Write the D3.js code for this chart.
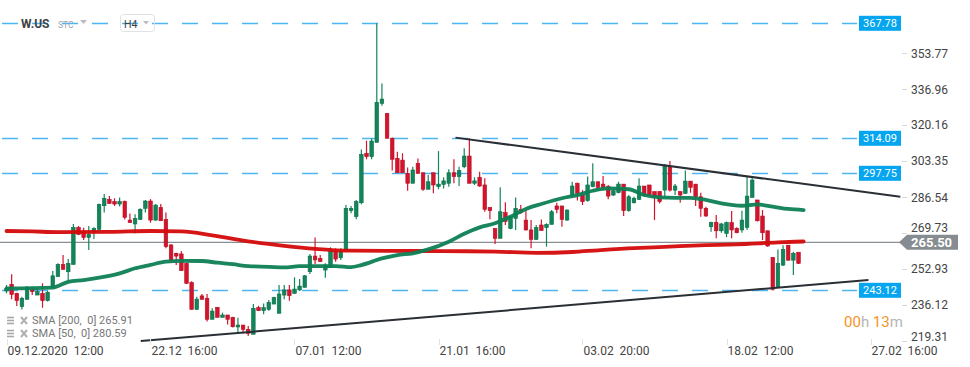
<!DOCTYPE html>
<html>
<head>
<meta charset="utf-8">
<script src="https://cdn.jsdelivr.net/npm/d3@7"></script>
<style>
  html, body { margin: 0; padding: 0; background: #fff; }
  svg { display: block; font-family: Roboto, 'Noto Sans', sans-serif; }
  text { white-space: pre; }
</style>
</head>
<body>
<div id="chart"></div>
<script>
// candles, H4, one entry per bar
const opens = [242.8,245.9,241.7,235.5,238.9,243.6,240.9,241.7,238.3,244.5,249.5,255.2,251.8,255.2,272.5,270.5,267.8,270.5,271.6,282.6,
  285.6,284.6,283.4,284.6,275.9,274.1,276.2,281.4,284.8,275.9,281.8,276.2,264.3,260.4,260.1,255.7,246.8,234.2,240.5,239.4,
  229.6,235.2,230.5,231.6,230.5,226.0,226.9,224.9,222.6,235.0,233.6,234.2,236.7,232.4,240.9,243.3,241.7,243.3,244.5,251.8,
  259.1,258.0,252.6,253.8,261.6,258.3,261.9,280.3,277.5,284.0,307.1,305.5,312.2,330.4,325.7,314.1,304.7,303.9,297.7,293.1,
  302.4,298.0,290.3,298.0,291.5,292.6,293.1,298.0,296.2,300.8,305.8,293.1,295.9,292.3,281.8,272.0,267.4,279.4,272.0,276.7,
  280.9,275.9,271.3,266.9,273.6,272.4,273.9,282.5,282.5,275.9,287.6,293.1,287.6,285.0,291.5,293.8,292.7,291.5,287.6,288.7,
  292.7,280.3,284.0,285.6,291.8,292.3,289.2,289.2,289.9,300.8,289.9,289.2,288.4,294.1,292.7,286.8,281.4,272.8,274.8,270.9,
  269.7,274.7,272.0,271.3,272.5,286.5,285.3,277.8,270.9,258.5,244.5,254.9,264.2,257.2,260.9];
const highs = [245.6,250.6,242.0,240.1,245.1,244.8,244.0,246.4,242.9,252.1,255.7,259.6,257.7,274.1,273.1,272.3,273.1,272.5,283.7,288.1,
  287.1,286.1,286.5,285.0,279.0,278.6,281.4,285.3,285.7,283.4,283.4,279.4,264.6,260.7,261.5,256.0,247.4,240.1,241.4,241.4,
  234.7,235.2,232.7,231.6,230.8,230.3,226.9,226.5,236.7,235.9,237.0,238.6,240.1,245.6,245.6,245.6,249.2,248.4,250.3,260.1,
  267.8,259.6,255.7,263.2,262.7,262.7,282.9,282.5,285.3,308.9,313.0,314.1,367.78,339.7,325.7,314.5,307.8,307.1,300.5,300.8,
  304.7,298.0,296.9,298.0,308.1,295.9,299.6,304.3,300.8,309.4,314.1,295.9,298.5,295.4,281.8,272.0,291.2,284.2,277.8,286.5,
  282.9,280.6,275.9,273.6,276.2,274.4,280.6,284.0,282.5,280.9,293.8,293.4,289.9,296.2,302.4,293.8,296.5,292.3,290.3,293.8,
  292.7,287.6,286.8,295.4,291.8,292.3,289.2,289.5,302.1,303.5,292.7,289.2,299.0,294.1,292.7,288.7,282.1,275.1,278.3,274.7,
  275.2,280.1,272.5,280.3,296.5,295.4,285.3,280.6,270.9,258.5,262.2,264.2,264.2,261.1,260.9];
const lows = [241.7,238.9,235.8,234.2,238.9,240.9,240.9,235.0,237.9,244.5,249.5,252.9,246.7,255.2,268.9,266.6,261.9,267.1,271.0,279.4,
  283.4,282.5,282.2,276.2,274.7,269.7,275.9,279.4,274.7,275.6,275.5,262.7,256.9,254.9,252.3,246.0,234.2,234.2,238.9,228.5,
  229.6,230.5,230.5,227.2,225.7,223.0,223.0,221.8,222.6,233.6,231.9,233.6,236.7,232.4,239.0,238.3,241.4,242.8,244.5,250.7,
  255.4,256.5,249.0,253.8,256.5,257.3,261.9,279.1,276.3,283.3,304.3,304.3,312.2,329.3,314.1,299.0,298.0,298.0,289.6,293.1,
  297.7,289.6,290.3,288.4,290.3,290.7,291.5,293.1,291.8,300.1,293.1,292.3,291.5,279.8,276.3,264.7,267.4,273.6,271.6,271.3,
  278.7,271.0,262.7,266.6,271.0,263.5,273.9,279.1,272.8,275.6,287.1,285.0,282.9,284.5,291.2,289.6,289.9,285.6,287.1,288.4,
  277.8,279.8,283.7,285.3,286.8,287.1,275.9,283.7,287.1,289.2,287.6,284.0,288.1,288.7,282.5,277.5,277.5,270.5,267.4,270.0,
  267.9,267.4,269.7,270.0,271.3,286.5,275.2,266.6,263.5,243.0,244.5,254.5,256.9,250.3,255.4];
const closes = [244.0,241.2,238.3,239.4,244.5,242.5,242.5,238.3,242.2,249.9,255.2,252.9,255.7,272.5,269.2,267.8,269.2,272.0,283.2,286.1,
  283.7,283.4,284.6,277.2,274.7,276.7,280.9,284.8,275.9,282.9,275.6,263.5,256.9,259.1,252.3,246.4,234.2,239.0,238.9,229.6,
  233.4,230.5,231.6,229.6,226.1,226.9,224.9,223.0,234.7,233.6,235.0,237.5,239.7,241.4,243.3,240.6,243.7,245.1,249.9,259.1,
  257.3,256.5,254.9,261.6,257.7,261.1,281.4,281.4,284.5,306.6,305.5,312.8,330.9,332.4,314.1,304.3,298.0,298.0,293.1,299.3,
  297.7,290.3,293.8,292.3,292.7,294.2,298.0,296.2,299.0,305.8,293.1,294.2,291.8,280.9,280.3,267.4,279.8,275.2,277.5,281.4,
  279.4,271.3,266.9,272.4,271.0,273.9,279.8,280.9,276.2,280.6,291.8,288.4,284.5,292.3,293.8,291.2,291.2,287.1,289.6,292.7,
  280.3,286.8,286.1,291.8,287.6,287.6,286.8,284.5,301.1,289.9,291.8,287.6,294.1,291.2,286.8,281.4,277.8,274.8,270.9,274.1,
  274.7,271.3,270.0,275.9,287.1,294.6,275.6,270.0,263.8,243.6,255.7,262.2,257.2,260.4,255.7];

// moving averages (bar index, value)
const sma200Idx = [0, 5, 10, 20, 28, 34, 40, 47, 54, 60, 67, 75, 85, 95, 103, 110, 115, 122, 128, 136, 142, 150, 155];
const sma200Val = [270.8, 270.6, 270.3, 270.4, 270.8, 270.6, 268.8, 266.0, 263.9, 262.5, 261.6, 261.5, 261.4, 261.2, 260.6, 261.0, 261.8, 262.8, 263.4, 264.2, 264.6, 265.5, 265.91];
const sma50Idx = [0, 9, 12, 15, 18, 22, 25, 28, 31, 34, 38, 41, 44, 47, 51, 54, 57, 60, 64, 67, 69, 73, 76, 79, 82, 86, 89, 92, 95, 98, 101, 104, 108, 111, 114, 117, 121, 124, 127, 130, 133, 136, 139, 143, 146, 149, 152, 155];
const sma50Val = [244.0, 244.4, 247.1, 247.9, 249.0, 251.0, 253.4, 255.0, 256.5, 256.9, 256.8, 256.0, 255.3, 254.4, 254.1, 253.8, 254.4, 254.4, 254.4, 253.9, 254.9, 258.0, 259.6, 260.4, 262.2, 265.8, 269.5, 272.5, 274.4, 277.5, 281.1, 283.4, 286.1, 287.6, 289.6, 290.7, 290.3, 287.6, 286.5, 286.3, 286.3, 285.3, 283.7, 282.6, 283.2, 282.2, 281.1, 280.59];

// drawn trend lines (bar index, price)
const trendUpper = [[87.3, 314.4], [173.8, 286.8]];
const trendLower = [[26.1, 219.4], [167.6, 247.9]];

const levels = [367.78, 314.09, 297.75, 243.12];
const lastPrice = 265.50;
const yTicks = [353.77, 336.96, 320.16, 303.35, 286.54, 269.73, 252.93, 236.12, 219.31];
const xTickIdx = [0, 28, 56, 84, 112, 140, 168];
const xTickLabels = ['09.12.2020  12:00', '22.12  16:00', '07.01  12:00', '21.01  16:00', '03.02  20:00', '18.02  12:00', '27.02  16:00'];

const width = 970;
const height = 367;
const green = '#12865a';
const red = '#d3142c';
const fmt = d3.format('.2f');

const svg = d3.select('#chart')
  .append('svg')
  .attr('width', width)
  .attr('height', height);

const x = d3.scaleLinear().domain([0, 168]).range([6.5, 870.5]);
const y = d3.scaleLinear().domain([219.31, 353.77]).range([341.3, 53.3]);
const py = y(lastPrice);

// dashed price levels
svg.selectAll('.level')
  .data(levels)
  .enter()
  .append('line')
  .attr('x1', 0)
  .attr('x2', 857)
  .attr('y1', (d) => Math.round(y(d)) + 0.5)
  .attr('y2', (d) => Math.round(y(d)) + 0.5)
  .attr('stroke', '#4db6f2')
  .attr('stroke-width', 1.3)
  .attr('stroke-dasharray', '16,14')
  .attr('stroke-dashoffset', -2);

// current price line
svg.append('line')
  .attr('x1', 0)
  .attr('x2', 900)
  .attr('y1', py)
  .attr('y2', py)
  .attr('stroke', '#8a8f93')
  .attr('stroke-width', 1.4);

// candles
const bars = d3.range(opens.length);
svg.selectAll('.wick')
  .data(bars)
  .enter()
  .append('line')
  .attr('x1', (i) => x(i))
  .attr('x2', (i) => x(i))
  .attr('y1', (i) => y(highs[i]))
  .attr('y2', (i) => y(lows[i]))
  .attr('stroke', (i) => closes[i] >= opens[i] ? green : red)
  .attr('stroke-width', 1.2);

svg.selectAll('.body')
  .data(bars)
  .enter()
  .append('rect')
  .attr('x', (i) => x(i) - 1.8)
  .attr('width', 3.6)
  .attr('y', (i) => y(Math.max(opens[i], closes[i])))
  .attr('height', (i) => Math.max(1, Math.abs(y(opens[i]) - y(closes[i]))))
  .attr('fill', (i) => closes[i] >= opens[i] ? green : red)
  .attr('stroke', (i) => closes[i] >= opens[i] ? '#0b6e48' : '#b50f24')
  .attr('stroke-width', 0.6);

// moving averages
const line = d3.line().curve(d3.curveMonotoneX);
svg.append('path')
  .attr('d', line(sma200Idx.map((d, i) => [x(d), y(sma200Val[i])])))
  .attr('fill', 'none')
  .attr('stroke', '#d40a0a')
  .attr('stroke-opacity', 0.95)
  .attr('stroke-width', 3.8)
  .attr('stroke-linecap', 'round');

svg.append('path')
  .attr('d', line(sma50Idx.map((d, i) => [x(d), y(sma50Val[i])])))
  .attr('fill', 'none')
  .attr('stroke', '#0d8055')
  .attr('stroke-opacity', 0.95)
  .attr('stroke-width', 3.8)
  .attr('stroke-linecap', 'round');

// trend lines
[trendUpper, trendLower].forEach((t) => {
  svg.append('line')
    .attr('x1', x(t[0][0]))
    .attr('y1', y(t[0][1]))
    .attr('x2', x(t[1][0]))
    .attr('y2', y(t[1][1]))
    .attr('stroke', '#2a2e35')
    .attr('stroke-width', 2);
});

// right axis
svg.selectAll('.ytick')
  .data(yTicks)
  .enter()
  .append('line')
  .attr('x1', 902)
  .attr('x2', 907)
  .attr('y1', (d) => Math.round(y(d)) + 0.5)
  .attr('y2', (d) => Math.round(y(d)) + 0.5)
  .attr('stroke', '#d8d8d8');

// labels too close to the last price tag are pushed above it
const labelY = (d) => {
  const ty = Math.min(y(d), 337);
  return Math.abs(ty - py) < 15 ? py - 15 : ty;
};

svg.selectAll('.ylabel')
  .data(yTicks)
  .enter()
  .append('text')
  .attr('x', 911)
  .attr('y', labelY)
  .attr('dy', '0.35em')
  .attr('font-size', 12)
  .attr('fill', '#444')
  .text((d) => fmt(d));

// level tags
svg.selectAll('.tag')
  .data(levels)
  .enter()
  .append('rect')
  .attr('x', 859)
  .attr('width', 42)
  .attr('y', (d) => y(d) - 7.5)
  .attr('height', 15)
  .attr('fill', '#05a6ef');

svg.selectAll('.tagText')
  .data(levels)
  .enter()
  .append('text')
  .attr('x', 880)
  .attr('y', (d) => y(d))
  .attr('dy', '0.35em')
  .attr('text-anchor', 'middle')
  .attr('font-size', 11)
  .attr('fill', '#fff')
  .text((d) => fmt(d));

// last price tag
svg.append('path')
  .attr('d', `M899,${py} L907,${py - 7.5} L958,${py - 7.5} L958,${py + 7.5} L907,${py + 7.5} Z`)
  .attr('fill', '#868c90');
svg.append('text')
  .attr('x', 911)
  .attr('y', py)
  .attr('dy', '0.36em')
  .attr('font-size', 13)
  .attr('font-weight', 'bold')
  .attr('fill', '#fff')
  .text(fmt(lastPrice));

// bottom axis
svg.selectAll('.xtick')
  .data(xTickIdx)
  .enter()
  .append('line')
  .attr('x1', (d) => Math.round(x(d)) + 0.5)
  .attr('x2', (d) => Math.round(x(d)) + 0.5)
  .attr('y1', 339)
  .attr('y2', 345)
  .attr('stroke', '#e2e2e2');

svg.selectAll('.xlabel')
  .data(xTickIdx)
  .enter()
  .append('text')
  .attr('x', (d) => x(d) + 1)
  .attr('y', 355)
  .attr('font-size', 12)
  .attr('fill', '#444')
  .text((d, i) => xTickLabels[i]);

// legend
const legend = [['SMA [200,  0] ', sma200Val[sma200Val.length - 1]], ['SMA [50,  0] ', sma50Val[sma50Val.length - 1]]];
legend.forEach((l, i) => {
  const ly = 320.5 + i * 13;
  [-3, 0, 3].forEach((o) => {
    svg.append('rect')
      .attr('x', 7)
      .attr('y', ly + o - 0.8)
      .attr('width', 7)
      .attr('height', 1.6)
      .attr('fill', '#a8a8a8');
  });
  svg.append('path')
    .attr('d', `M21,${ly - 3.5} L27,${ly + 3.5} M27,${ly - 3.5} L21,${ly + 3.5}`)
    .attr('stroke', '#b0b0b0')
    .attr('stroke-width', 2);
  svg.append('text')
    .attr('x', 32)
    .attr('y', ly)
    .attr('dy', '0.35em')
    .attr('font-size', 11)
    .attr('fill', '#777')
    .text(l[0] + fmt(l[1]));
});

// countdown
const timer = svg.append('text')
  .attr('x', 844)
  .attr('y', 327)
  .attr('font-size', 15);
timer.append('tspan').attr('fill', '#f7931e').text('00');
timer.append('tspan').attr('fill', '#b5b5b5').text('h ');
timer.append('tspan').attr('fill', '#f7931e').text('13');
timer.append('tspan').attr('fill', '#b5b5b5').text('m');

// header
svg.append('text')
  .attr('x', 21)
  .attr('y', 28)
  .attr('font-size', 12)
  .attr('font-weight', 'bold')
  .attr('fill', '#3d4246')
  .text('W.US');
svg.append('text')
  .attr('x', 58)
  .attr('y', 28)
  .attr('font-size', 8.5)
  .attr('fill', '#a0a6aa')
  .text('STC');
svg.append('path')
  .attr('d', 'M80,20 L87,20 L83.5,24 Z')
  .attr('fill', '#b8bcbf');
svg.append('rect')
  .attr('x', 120.5)
  .attr('y', 14.5)
  .attr('width', 34)
  .attr('height', 17)
  .attr('rx', 3)
  .attr('fill', 'none')
  .attr('stroke', '#dfe1e3');
svg.append('text')
  .attr('x', 124)
  .attr('y', 28)
  .attr('font-size', 10.5)
  .attr('fill', '#3d4246')
  .text('H4');
svg.append('path')
  .attr('d', 'M143,21 L149,21 L146,24.5 Z')
  .attr('fill', '#b8bcbf');
</script>
</body>
</html>
